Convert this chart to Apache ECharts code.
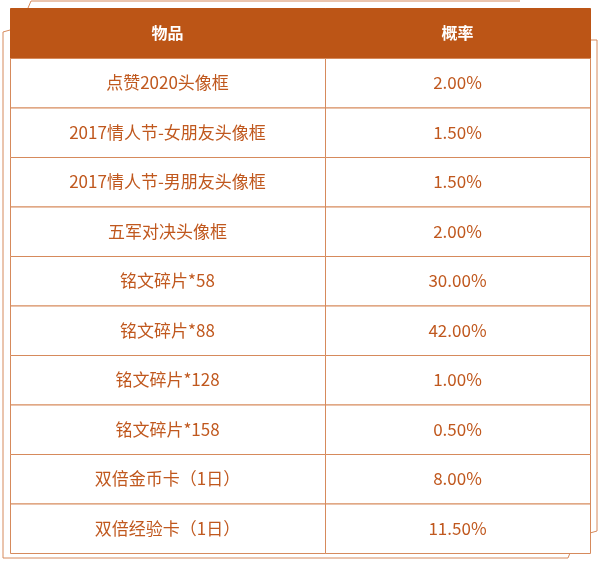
<!DOCTYPE html>
<html><head><meta charset="utf-8">
<script src="https://cdn.jsdelivr.net/npm/echarts@6/dist/echarts.min.js"></script>
<style>html,body{margin:0;padding:0;background:#fff}#c{width:600px;height:563px}</style>
</head><body><div id="c"></div>
<script>
const headers = ['物品', '概率'];
const items = ['点赞2020头像框','2017情人节-女朋友头像框','2017情人节-男朋友头像框','五军对决头像框','铭文碎片*58','铭文碎片*88','铭文碎片*128','铭文碎片*158','双倍金币卡（1日）','双倍经验卡（1日）'];
const probs = ['2.00%','1.50%','1.50%','2.00%','30.00%','42.00%','1.00%','0.50%','8.00%','11.50%'];
const colEdges = [0, 315, 580];

const cells = [];
headers.forEach((h, c) => cells.push([0, c, h]));
items.forEach((t, i) => { cells.push([i + 1, 0, t]); cells.push([i + 1, 1, probs[i]]); });

const chart = echarts.init(document.getElementById('c'));
const border = '#d68a5c';
chart.setOption({
  animation: false,
  grid: { left: 10, top: 8, width: 580, height: 545 },
  xAxis: { type: 'value', min: 0, max: 580, show: false },
  yAxis: { type: 'value', min: 0, max: 545, inverse: true, show: false },
  graphic: [
    { type: 'polyline', shape: { points: [[28, 8], [31, 1], [520, 1]] }, style: { stroke: border, fill: null, lineWidth: 1 } },
    { type: 'polyline', shape: { points: [[10, 30], [3, 32], [3, 558], [10, 558]] }, style: { stroke: border, fill: null, lineWidth: 1 } },
    { type: 'polyline', shape: { points: [[590, 40], [597, 40], [597, 531], [590, 533]] }, style: { stroke: border, fill: null, lineWidth: 1 } },
    { type: 'polyline', shape: { points: [[10, 558], [568, 558], [570, 553]] }, style: { stroke: border, fill: null, lineWidth: 1 } }
  ],
  series: [{
    type: 'custom',
    data: cells,
    encode: { x: 1, y: 0 },
    renderItem: function (params, api) {
      const r = api.value(0), c = api.value(1);
      const y0 = r === 0 ? 0 : 50 + (r - 1) * 49.5;
      const y1 = r === 0 ? 50 : 50 + r * 49.5;
      const p0 = api.coord([colEdges[c], y0]);
      const p1 = api.coord([colEdges[c + 1], y1]);
      const head = r === 0;
      return {
        type: 'group',
        children: [
          { type: 'rect', shape: { x: p0[0] + 0.5, y: p0[1] + 0.5, width: p1[0] - p0[0], height: p1[1] - p0[1] },
            style: { fill: head ? '#bc5516' : '#fff', stroke: head ? '#bc5516' : border, lineWidth: 1 } },
          { type: 'text', x: (p0[0] + p1[0]) / 2, y: (p0[1] + p1[1]) / 2,
            style: { text: cells[params.dataIndex][2], align: 'center', verticalAlign: 'middle',
              fill: head ? '#fff' : '#c0581e', fontSize: head ? 16 : 17, fontWeight: head ? 'bold' : 'normal',
              fontFamily: '"Noto Sans CJK SC", "Noto Sans", sans-serif' } }
        ]
      };
    }
  }]
});
</script></body></html>
